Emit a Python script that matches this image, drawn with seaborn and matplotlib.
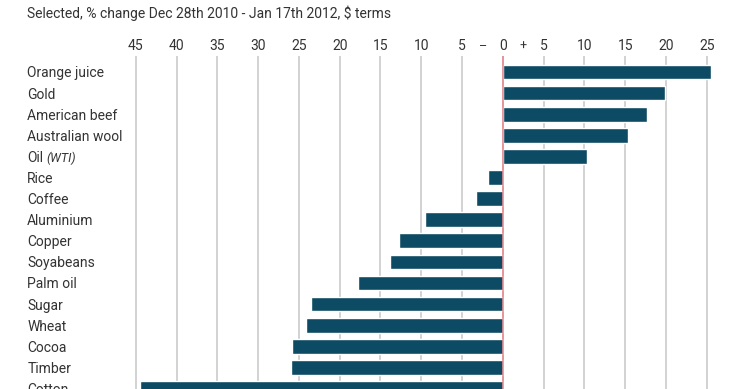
import matplotlib
matplotlib.use("Agg")
import matplotlib.pyplot as plt
import seaborn as sns

# commodity price changes, % Dec 28th 2010 - Jan 17th 2012
commodities = ["Orange juice", "Gold", "American beef", "Australian wool", "Oil",
               "Rice", "Coffee", "Aluminium", "Copper", "Soyabeans", "Palm oil",
               "Sugar", "Wheat", "Cocoa", "Timber", "Cotton"]
change = [25.5, 19.9, 17.6, 15.3, 10.3,
          -1.8, -3.3, -9.5, -12.7, -13.8, -17.7,
          -23.5, -24.1, -25.8, -26.0, -44.5]
tick_vals = [-45, -40, -35, -30, -25, -20, -15, -10, -5, 0, 5, 10, 15, 20, 25]
tick_text = ["45", "40", "35", "30", "25", "20", "15", "10", "5", "0", "5", "10", "15", "20", "25"]

sns.set_style("white")
plt.rcParams["font.family"] = ["Roboto", "DejaVu Sans"]

W, H = 740, 389
fig = plt.figure(figsize=(W / 100, H / 100), dpi=100)
# axes placed in pixel terms; bottom runs off the figure like the cropped original
left, right, top, bottom = 130, 720, 56, 400
ax = fig.add_axes([left / W, 1 - bottom / H, (right - left) / W, (bottom - top) / H])

sns.barplot(x=change, y=commodities, color="#0d4a63", saturation=1, width=0.7,
            orient="h", ax=ax, zorder=2)

px = 8.16  # pixels per unit
ax.set_xlim((left - 502.9) / px, (right - 502.9) / px)
ax.set_ylim((bottom - 72) / 21.1, (top - 72) / 21.1)

ax.xaxis.tick_top()
ax.set_xticks(tick_vals)
ax.set_xticklabels(tick_text)
ax.tick_params(axis="x", length=0, pad=2, labelsize=10, labelcolor="#333333")
ax.tick_params(axis="y", length=0, pad=74, labelsize=10, labelcolor="#333333")
for lab in ax.get_yticklabels():
    lab.set_horizontalalignment("left")
ax.set_xlabel("")
ax.set_ylabel("")

ax.grid(axis="x", color="#d2d2d2", lw=1.4, zorder=0)
ax.grid(axis="y", visible=False)
ax.set_axisbelow(True)
ax.axvline(0, color="#e9868c", lw=1.1, zorder=3)
for s in ax.spines.values():
    s.set_visible(False)

# minus / plus markers either side of zero
ax.text(-2.5, 1 + 9.5 / (bottom - top), "–", transform=ax.get_xaxis_transform(),
        ha="center", va="center", fontsize=9, color="#333333")
ax.text(2.5, 1 + 9.5 / (bottom - top), "+", transform=ax.get_xaxis_transform(),
        ha="center", va="center", fontsize=9, color="#333333")

# italic note after Oil
oil_label = ax.get_yticklabels()[4]
ax.annotate("(WTI)", xy=(1, 0.5), xycoords=oil_label, xytext=(2.5, 0),
            textcoords="offset points", ha="left", va="center",
            style="italic", fontsize=9, color="#333333")

fig.text(27 / W, 1 - 13 / H, "Selected, % change Dec 28th 2010 - Jan 17th 2012, $ terms",
         ha="left", va="center", fontsize=10, color="#333333")

fig.savefig("out.png", dpi=100)
